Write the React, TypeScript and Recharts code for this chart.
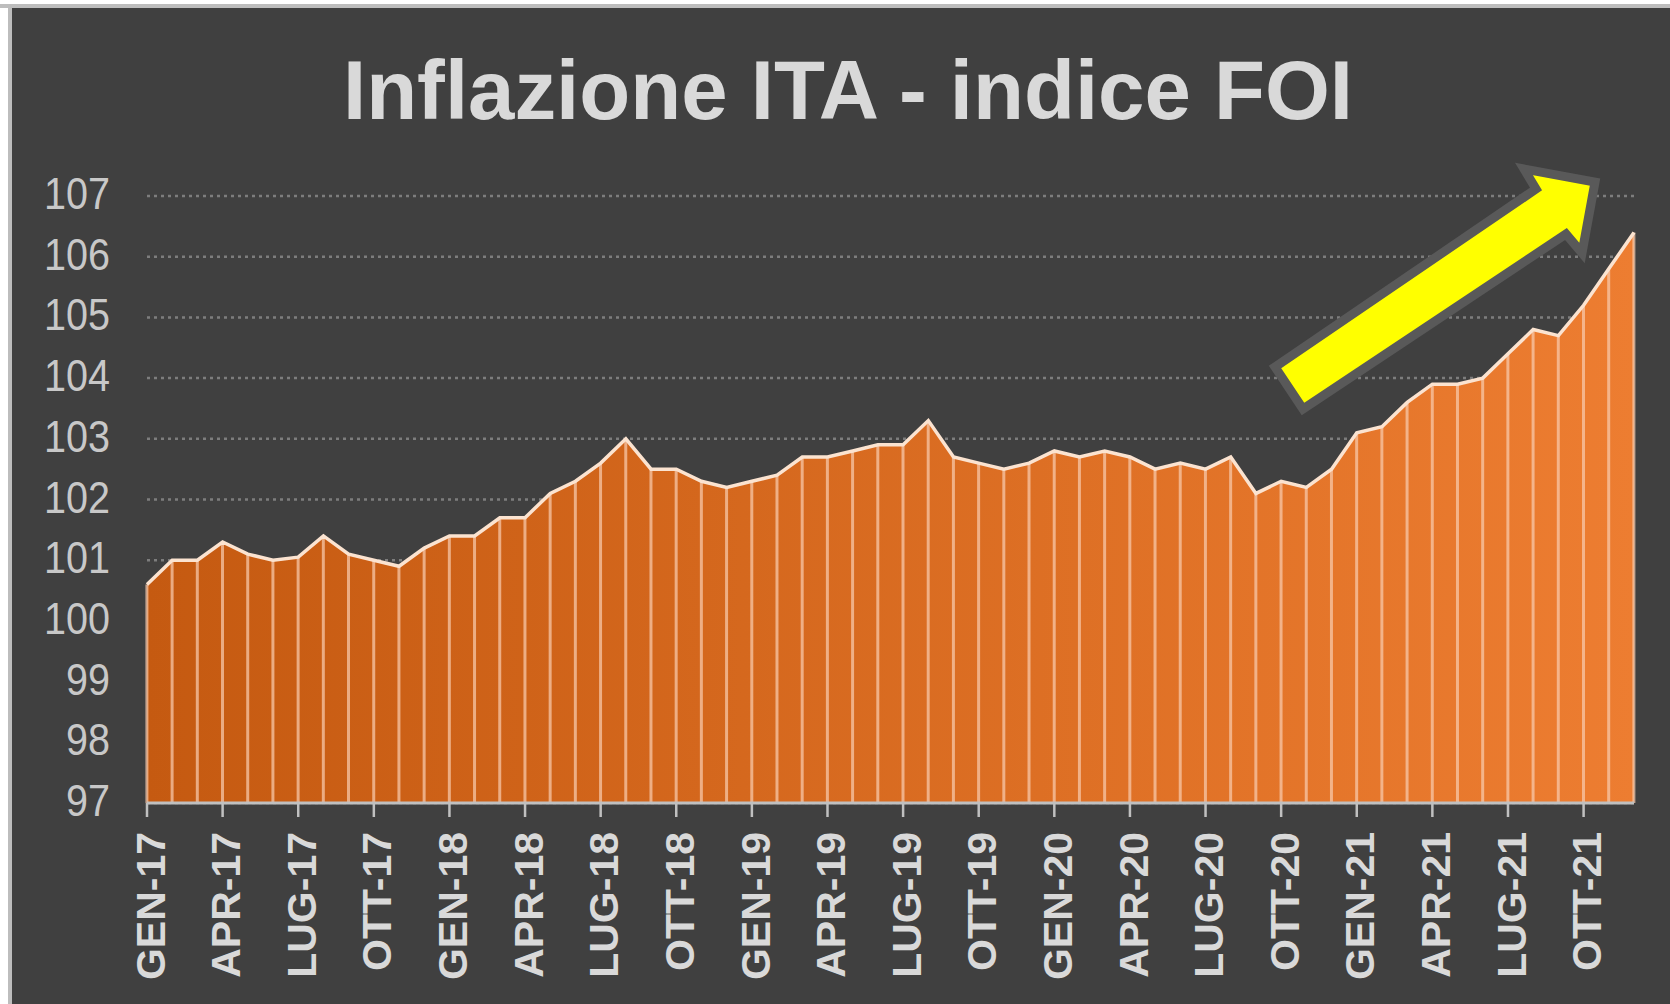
import { ComposedChart, Area, Bar, Line, XAxis, YAxis, CartesianGrid } from 'recharts';

const monthNames = ['GEN', 'FEB', 'MAR', 'APR', 'MAG', 'GIU', 'LUG', 'AGO', 'SET', 'OTT', 'NOV', 'DIC'];
const years = ['17', '18', '19', '20', '21'];
const months = years.flatMap((y) => monthNames.map((m) => `${m}-${y}`));

// indice FOI, gen-17 .. dic-21
const foiIndex = [
  100.6, 101.0, 101.0, 101.3, 101.1, 101.0, 101.05, 101.4, 101.1, 101.0, 100.9, 101.2,
  101.4, 101.4, 101.7, 101.7, 102.1, 102.3, 102.6, 103.0, 102.5, 102.5, 102.3, 102.2,
  102.3, 102.4, 102.7, 102.7, 102.8, 102.9, 102.9, 103.3, 102.7, 102.6, 102.5, 102.6,
  102.8, 102.7, 102.8, 102.7, 102.5, 102.6, 102.5, 102.7, 102.1, 102.3, 102.2, 102.5,
  103.1, 103.2, 103.6, 103.9, 103.9, 104.0, 104.4, 104.8, 104.7, 105.2, 105.8, 106.4,
];

const yTicks = [97, 98, 99, 100, 101, 102, 103, 104, 105, 106, 107];
const xTicks = [0, 3, 6, 9, 12, 15, 18, 21, 24, 27, 30, 33, 36, 39, 42, 45, 48, 51, 54, 57];

const data = months.map((month, i) => ({ i, month, foi: foiIndex[i] }));

const FONT = 'Liberation Sans, Arial, sans-serif';

const MonthTick = (props: any) => {
  const { x, y, payload } = props;
  return (
    <g transform={`translate(${x},${y})`}>
      <text
        transform="rotate(-90)"
        textAnchor="end"
        dy="0.43em"
        fontSize={41}
        fontWeight={700}
        fontFamily={FONT}
        fill="#d9d9d9"
      >
        {months[payload.value]}
      </text>
    </g>
  );
};

const ValueTick = (props: any) => {
  const { x, y, payload } = props;
  const label = String(payload.value);
  return (
    <text
      x={x}
      y={y}
      dy={13}
      textAnchor="end"
      fontSize={44}
      fontFamily={FONT}
      fill="#c8c8c8"
      textLength={label.length * 22}
      lengthAdjust="spacingAndGlyphs"
    >
      {label}
    </text>
  );
};

export default function App() {
  return (
    <div style={{ position: 'absolute', left: 0, top: 0, width: 1670, height: 1004, background: '#fff', overflow: 'hidden' }}>
      <div style={{ position: 'absolute', left: 0, top: 4, width: 1670, height: 4, background: '#bdbdbd' }} />
      <div style={{ position: 'absolute', left: 8, top: 4, width: 4, height: 1000, background: '#bdbdbd' }} />
      <div style={{ position: 'absolute', left: 12, top: 8, right: 0, bottom: 0, background: '#404040' }} />

      <div style={{ position: 'absolute', left: 0, top: 0 }}>
        <ComposedChart width={1670} height={1004} data={data} margin={{ top: 196, right: 36, bottom: 11, left: 47 }}>
          <defs>
            <linearGradient id="foiFill" x1="0" y1="0" x2="1" y2="0">
              <stop offset="0%" stopColor="#c55a11" />
              <stop offset="100%" stopColor="#ed7d31" />
            </linearGradient>
          </defs>
          <CartesianGrid vertical={false} stroke="#7d7d7d" strokeWidth={2.5} strokeDasharray="3 4" />
          <XAxis
            dataKey="i"
            type="number"
            domain={[0, months.length - 1]}
            ticks={xTicks}
            interval={0}
            height={190}
            tickSize={14}
            tickMargin={15}
            tick={<MonthTick />}
            axisLine={{ stroke: '#c0c0c0', strokeWidth: 3 }}
            tickLine={{ stroke: '#c0c0c0', strokeWidth: 2.5 }}
          />
          <YAxis
            type="number"
            domain={[97, 107]}
            ticks={yTicks}
            interval={0}
            width={100}
            axisLine={false}
            tickLine={false}
            tickSize={0}
            tickMargin={37}
            tick={<ValueTick />}
          />
          <Area
            type="linear"
            dataKey="foi"
            fill="url(#foiFill)"
            fillOpacity={1}
            stroke="none"
            dot={false}
            activeDot={false}
            isAnimationActive={false}
          />
          <Bar dataKey="foi" barSize={3} fill="#f8cbad" fillOpacity={0.72} isAnimationActive={false} />
          <Line
            type="linear"
            dataKey="foi"
            stroke="#fbe3d0"
            strokeWidth={3.5}
            dot={false}
            activeDot={false}
            isAnimationActive={false}
          />
        </ComposedChart>
      </div>

      <svg width={1670} height={1004} style={{ position: 'absolute', left: 0, top: 0, pointerEvents: 'none' }}>
        <text
          x={848}
          y={119}
          textAnchor="middle"
          fontSize={84}
          fontWeight={700}
          fontFamily={FONT}
          fill="#d9d9d9"
          textLength={1010}
          lengthAdjust="spacingAndGlyphs"
        >
          Inflazione ITA - indice FOI
        </text>
        <polygon
          points="1303,409 1566,234 1582,253 1595,182 1524,169 1536,189 1275,367"
          fill="#ffff00"
          stroke="#595959"
          strokeWidth={9}
          strokeLinejoin="miter"
        />
      </svg>
    </div>
  );
}
